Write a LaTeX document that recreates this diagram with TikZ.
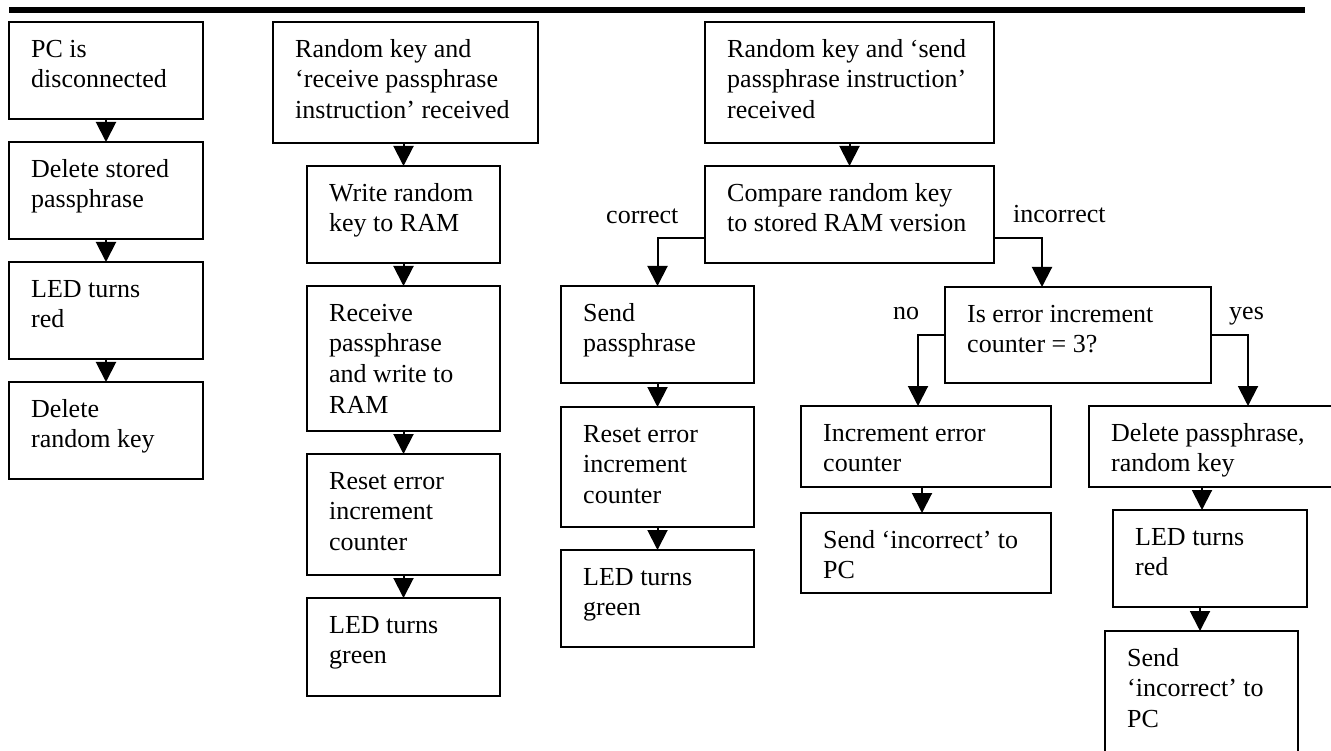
\documentclass[tikz,border=0pt]{standalone}
\usepackage{fontspec}
\setmainfont{Liberation Serif}
\usetikzlibrary{arrows.meta,calc}
\tikzset{
  fbox/.style={draw, line width=2.4pt, inner sep=0pt, outer sep=0pt, rectangle},
  ftext/.style={anchor=north west, inner sep=0pt, align=left, font=\fontsize{26}{30.7}\selectfont},
  flbl/.style={anchor=base west, inner sep=0pt, font=\fontsize{26}{30.7}\selectfont},
  arr/.style={line width=2pt, -{Triangle[width=20pt,length=20pt]}},
}
\newcommand\flowbox[6]{%
  \node[fbox, minimum width={#4-#2}, minimum height={#5-#3}] (#1) at ({(#2+#4)/2},{(#3+#5)/2}) {};
  \node[ftext] (#1t) at ([shift={(22pt,-13.5pt)}]#1.north west) {\strut #6};
}
\begin{document}
\begin{tikzpicture}[x=1pt,y=-1pt]
\useasboundingbox (0,0) rectangle (1331,751);
\fill[white] (0,0) rectangle (1331,751);
\clip (0,0) rectangle (1331,751);
% top rule
\draw[line width=6pt] (9,10) -- (1305,10);
% column A
\flowbox{A1}{9}{22}{203}{119}{PC is\\disconnected}
\flowbox{A2}{9}{142}{203}{239}{Delete stored\\passphrase}
\flowbox{A3}{9}{262}{203}{359}{LED turns\\red}
\flowbox{A4}{9}{382}{203}{479}{Delete\\random key}
% column B
\flowbox{B1}{273}{22}{538}{143}{Random key and\\‘receive passphrase\\instruction’ received}
\flowbox{B2}{307}{166}{500}{263}{Write random\\key to RAM}
\flowbox{B3}{307}{286}{500}{431}{Receive\\passphrase\\and write to\\RAM}
\flowbox{B4}{307}{454}{500}{575}{Reset error\\increment\\counter}
\flowbox{B5}{307}{598}{500}{696}{LED turns\\green}
% column C
\flowbox{C1}{705}{22}{994}{143}{Random key and ‘send\\passphrase instruction’\\received}
\flowbox{C2}{705}{166}{994}{263}{Compare random key\\to stored RAM version}
\flowbox{C3}{561}{286}{754}{383}{Send\\passphrase}
\flowbox{C4}{561}{407}{754}{527}{Reset error\\increment\\counter}
\flowbox{C5}{561}{550}{754}{647}{LED turns\\green}
% decision
\flowbox{D1}{945}{287}{1211}{383}{Is error increment\\counter = 3?}
\flowbox{D2}{801}{406}{1051}{487}{Increment error\\counter}
\flowbox{D3}{801}{513}{1051}{593}{Send ‘incorrect’ to\\PC}
\flowbox{E1}{1089}{406}{1360}{487}{Delete passphrase,\\random key}
\flowbox{E2}{1113}{510}{1307}{607}{LED turns\\red}
\flowbox{E3}{1105}{631}{1298}{780}{Send\\‘incorrect’ to\\PC}
% labels
\node[flbl] (lcorrect) at (606,224) {correct};
\node[flbl] (lincorrect) at (1013,223) {incorrect};
\node[flbl] (lno) at (893,320) {no};
\node[flbl] (lyes) at (1229,320) {yes};
% straight arrows
\draw[arr] (A1.south) -- (A2.north);
\draw[arr] (A2.south) -- (A3.north);
\draw[arr] (A3.south) -- (A4.north);
\draw[arr] (B1.south -| B2.north) -- (B2.north);
\draw[arr] (B2.south) -- (B3.north);
\draw[arr] (B3.south) -- (B4.north);
\draw[arr] (B4.south) -- (B5.north);
\draw[arr] (C1.south) -- (C2.north);
\draw[arr] (C3.south) -- (C4.north);
\draw[arr] (C4.south) -- (C5.north);
\coordinate (d23) at ($(D3.north)+(-4pt,0)$);
\draw[arr] (D2.south -| d23) -- (d23);
\coordinate (e12) at ($(E2.north)+(-8pt,0)$);
\draw[arr] (E1.south -| e12) -- (e12);
\coordinate (e23) at ($(E3.north)+(-1.5pt,0)$);
\draw[arr] (E2.south -| e23) -- (e23);
% branch arrows
\coordinate (cL) at ($(C2.west)+(0,-23.5pt)$);
\coordinate (cR) at ($(C2.east)+(0,-23.5pt)$);
\draw[arr] (cL) -| (C3.north);
\coordinate (d1in) at ($(D1.north)+(-36pt,0)$);
\draw[arr] (cR) -| (d1in);
\coordinate (d2in) at ($(D2.north)+(-8pt,0)$);
\draw[arr] (D1.west) -| (d2in);
\coordinate (e1in) at ($(E1.north)+(23.5pt,0)$);
\draw[arr] (D1.east) -| (e1in);
\end{tikzpicture}
\end{document}
